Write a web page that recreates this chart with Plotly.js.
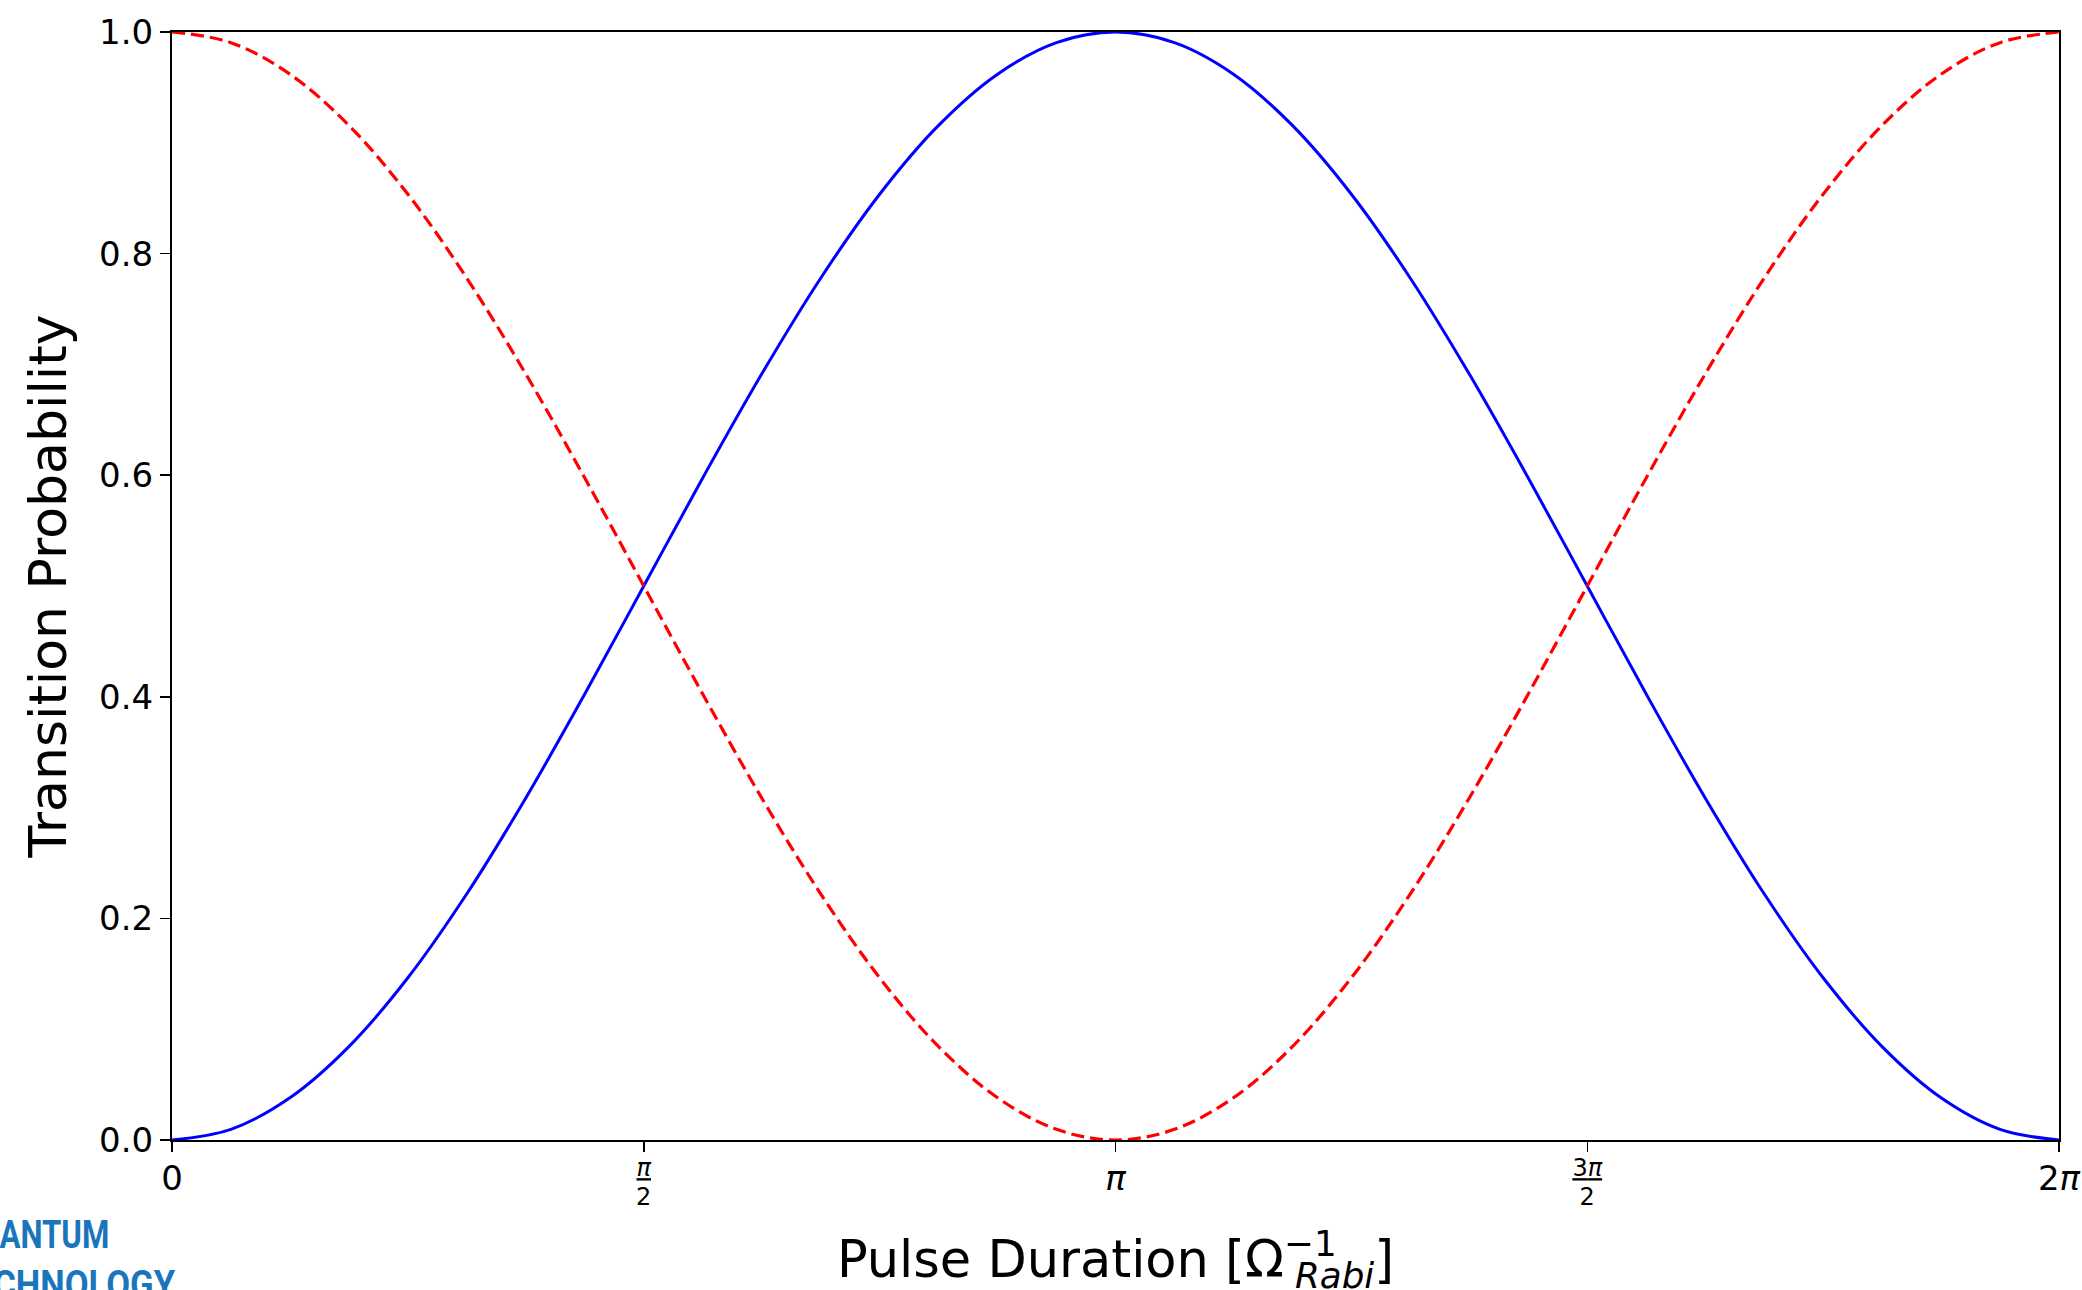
<!DOCTYPE html>
<html>
<head>
<meta charset="utf-8">
<script src="https://cdn.plot.ly/plotly-3.0.1.min.js"></script>
<style>
html,body{margin:0;padding:0;background:#fff;}
#chart{width:2082px;height:1290px;}
</style>
</head>
<body>
<div id="chart"></div>
<script>
// Pulse duration (in units of 1/Omega_Rabi), read at steps of pi/16
const pulseDuration = [0, 0.1963, 0.3927, 0.5890, 0.7854, 0.9817, 1.1781, 1.3744, 1.5708, 1.7671, 1.9635, 2.1598, 2.3562, 2.5525, 2.7489, 2.9452, 3.1416, 3.3379, 3.5343, 3.7306, 3.9270, 4.1233, 4.3197, 4.5160, 4.7124, 4.9087, 5.1051, 5.3014, 5.4978, 5.6941, 5.8905, 6.0868, 6.2832];
// Blue solid curve (excited-state population)
const probExcited = [0, 0.0096, 0.0381, 0.0843, 0.1464, 0.2222, 0.3087, 0.4025, 0.5, 0.5975, 0.6913, 0.7778, 0.8536, 0.9157, 0.9619, 0.9904, 1, 0.9904, 0.9619, 0.9157, 0.8536, 0.7778, 0.6913, 0.5975, 0.5, 0.4025, 0.3087, 0.2222, 0.1464, 0.0843, 0.0381, 0.0096, 0];
// Red dashed curve (ground-state population)
const probGround = [1, 0.9904, 0.9619, 0.9157, 0.8536, 0.7778, 0.6913, 0.5975, 0.5, 0.4025, 0.3087, 0.2222, 0.1464, 0.0843, 0.0381, 0.0096, 0, 0.0096, 0.0381, 0.0843, 0.1464, 0.2222, 0.3087, 0.4025, 0.5, 0.5975, 0.6913, 0.7778, 0.8536, 0.9157, 0.9619, 0.9904, 1];

const xTickVals = [0, 1.5708, 3.1416, 4.7124, 6.2832];
const xTickLabels = ['0', 'π|2', 'π', '3π|2', '2π'];
const yTickVals = [0, 0.2, 0.4, 0.6, 0.8, 1.0];
const yTickLabels = ['0.0', '0.2', '0.4', '0.6', '0.8', '1.0'];

const xTitle = 'Pulse Duration [Ω<sup>−1</sup><sub><i>Rabi</i></sub>]';
const yTitle = 'Transition Probability';
const logoLines = ['QUANTUM', 'TECHNOLOGY'];

function fmtTick(t) {
  const it = s => s.replace('π', '<i>π</i>');
  if (t.indexOf('|') >= 0) {
    const parts = t.split('|');
    return "<sup><span style='font-size:24px'><u>" + it(parts[0]) + "</u></span></sup><br>" +
           "<sup><span style='font-size:24px'>" + parts[1] + "</span></sup>";
  }
  return "<sub><span style='font-size:34px'>" + it(t) + "</span></sub>";
}

const FONT = 'DejaVu Sans, Liberation Sans, sans-serif';
const LOGO_FONT = 'Roboto, Liberation Sans, sans-serif';

const traces = [
  {
    x: pulseDuration, y: probExcited, type: 'scatter', mode: 'lines',
    line: {color: '#0000ff', width: 3, shape: 'spline', smoothing: 1},
    showlegend: false, hoverinfo: 'skip'
  },
  {
    x: pulseDuration, y: probGround, type: 'scatter', mode: 'lines',
    line: {color: '#ff0000', width: 3.2, dash: '13px,6px', shape: 'spline', smoothing: 1},
    showlegend: false, hoverinfo: 'skip'
  }
];

const layout = {
  width: 2082, height: 1290,
  margin: {l: 172, r: 23, t: 32, b: 150, pad: 0},
  paper_bgcolor: '#ffffff', plot_bgcolor: '#ffffff',
  font: {family: FONT, color: '#000000'},
  showlegend: false,
  xaxis: {
    range: [0, 6.2832],
    tickmode: 'array', tickvals: xTickVals, ticktext: xTickLabels.map(fmtTick),
    tickfont: {family: FONT, size: 22, color: '#000'},
    ticklabelstandoff: 7,
    ticks: 'outside', ticklen: 10, tickwidth: 1.5, tickcolor: '#000',
    showline: true, mirror: true, linecolor: '#000', linewidth: 2,
    showgrid: false, zeroline: false, automargin: false,
    title: {text: xTitle, font: {family: FONT, size: 51, color: '#000'}, standoff: 35}
  },
  yaxis: {
    range: [0, 1],
    tickmode: 'array', tickvals: yTickVals, ticktext: yTickLabels,
    tickfont: {family: FONT, size: 34, color: '#000'},
    ticks: 'outside', ticklen: 10, tickwidth: 1.5, tickcolor: '#000',
    showline: true, mirror: true, linecolor: '#000', linewidth: 2,
    showgrid: false, zeroline: false, automargin: false,
    title: {text: yTitle, font: {family: FONT, size: 52, color: '#000'}, standoff: 16}
  },
  annotations: [
    {text: '<b>' + logoLines[0] + '</b>', xref: 'paper', yref: 'paper', x: (110 - 172) / 1887, y: -(1259 - 1140) / 1108,
     xanchor: 'right', yanchor: 'bottom', showarrow: false, borderpad: 0,
     font: {family: LOGO_FONT, size: 39, color: '#1a76bb'}},
    {text: '<b>' + logoLines[1] + '</b>', xref: 'paper', yref: 'paper', x: (177 - 172) / 1887, y: -(1309 - 1140) / 1108,
     xanchor: 'right', yanchor: 'bottom', showarrow: false, borderpad: 0,
     font: {family: LOGO_FONT, size: 39, color: '#1a76bb'}}
  ]
};

Plotly.newPlot('chart', traces, layout, {staticPlot: true, displayModeBar: false}).then(function (gd) {
  // stack the superscript over the subscript in the x-axis title (like LaTeX)
  try {
    const g = gd.querySelector('.g-xtitle');
    const t = g ? g.querySelector('text') : null;
    if (t) {
      const spans = Array.from(t.querySelectorAll('tspan'));
      const sup = spans.find(s => s.getAttribute('dy') === '-0.6em');
      const sub = spans.find(s => s.getAttribute('dy') === '0.3em');
      if (sup && sub) {
        const w = sup.getComputedTextLength();
        sub.setAttribute('dx', String(-(w - 11)));
      }
      // the title is clamped inside the bottom margin; nudge it down a little more
      const prev = g.getAttribute('transform') || '';
      g.setAttribute('transform', (prev + ' translate(0,6)').trim());
    }
  } catch (e) {}
  // condense the logo lettering (visible parts: "ANTUM" 110px, "CHNOLOGY" 182px)
  try {
    const texts = gd.querySelectorAll('.annotation-text');
    const spec = [{start: 2, n: 5, width: 110}, {start: 2, n: 8, width: 182}];
    texts.forEach(function (el, i) {
      if (!spec[i]) return;
      const w = el.getSubStringLength(spec[i].start, spec[i].n);
      const s = spec[i].width / w;
      const bb = el.getBBox();
      const right = bb.x + bb.width;
      el.setAttribute('transform', 'translate(' + right + ',0) scale(' + s + ',1) translate(' + (-right) + ',0)');
    });
  } catch (e) {}
});
</script>
</body>
</html>
